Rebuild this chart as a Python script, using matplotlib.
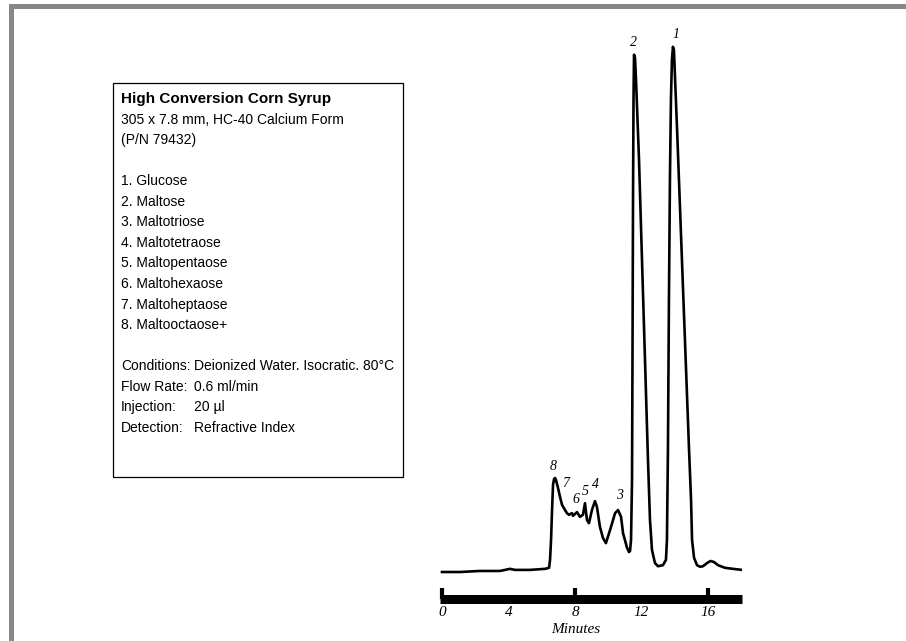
"""
HPLC chromatogram of a high conversion corn syrup on an HC-40 calcium column,
with the run conditions listed in a box on the left.
"""

import matplotlib.pyplot as plt
from matplotlib.patches import Rectangle

W, H = 906, 641

# detector trace: retention time (min) and response (% of the glucose peak)
time_min = [
    0.00, 1.08, 2.29, 3.49, 3.79, 4.09, 4.39, 5.29, 6.20, 6.44,
    6.50, 6.56, 6.62, 6.68, 6.74, 6.80, 6.86, 6.98, 7.10, 7.22,
    7.40, 7.52, 7.64, 7.82, 7.88, 8.12, 8.30, 8.48, 8.60, 8.72,
    8.84, 9.02, 9.20, 9.32, 9.50, 9.68, 9.86, 10.11, 10.41, 10.59,
    10.77, 10.89, 11.13, 11.25, 11.31, 11.37, 11.43, 11.46, 11.49, 11.52,
    11.55, 11.61, 11.67, 11.85, 12.03, 12.21, 12.39, 12.51, 12.63, 12.81,
    12.99, 13.29, 13.47, 13.53, 13.59, 13.65, 13.71, 13.77, 13.83, 13.89,
    13.95, 14.14, 14.32, 14.50, 14.68, 14.86, 14.98, 15.04, 15.16, 15.34,
    15.52, 15.70, 15.94, 16.15, 16.36, 16.60, 17.02, 17.50, 18.05,
]
response = [
    0.0, 0.0, 0.2, 0.2, 0.4, 0.6, 0.4, 0.4, 0.6, 0.8,
    2.3, 6.1, 11.8, 16.6, 17.7, 17.9, 17.5, 16.0, 14.3, 12.8,
    11.8, 11.2, 10.9, 11.2, 10.7, 11.4, 10.5, 10.9, 13.1, 9.9,
    9.3, 11.8, 13.5, 12.4, 8.6, 6.5, 5.5, 8.0, 11.2, 11.8,
    10.5, 7.4, 4.6, 3.8, 4.0, 6.1, 17.5, 42.3, 70.9, 89.9,
    98.5, 97.9, 93.7, 78.5, 59.4, 40.4, 21.3, 9.9, 4.2, 1.7,
    1.1, 1.3, 2.3, 6.1, 23.2, 51.8, 74.7, 89.9, 97.5, 100.0,
    99.4, 84.2, 69.0, 53.7, 38.5, 23.2, 13.7, 6.1, 2.7, 1.3,
    1.0, 1.1, 1.7, 2.1, 1.9, 1.3, 0.8, 0.6, 0.4,
]

# peak numbers with apex time and height
peak_ids = ['8', '7', '6', '5', '4', '3', '2', '1']
peak_times = [6.74, 7.22, 8.12, 8.60, 9.20, 10.59, 11.55, 13.89]
peak_heights = [17.9, 12.8, 11.4, 13.1, 13.5, 11.8, 98.5, 100.0]
# where each number sits relative to its apex (pixels)
label_offsets = [(-1, 11), (4, 21), (-1, 13), (0, 12), (1, 17), (1, 15), (-1, 12), (3, 12)]

marked_ticks = [0, 8, 16]
plain_ticks = [4, 12]

title = 'High Conversion Corn Syrup'
column_info = ['305 x 7.8 mm, HC-40 Calcium Form', '(P/N 79432)']
compounds = ['Glucose', 'Maltose', 'Maltotriose', 'Maltotetraose',
             'Maltopentaose', 'Maltohexaose', 'Maltoheptaose', 'Maltooctaose+']
condition_names = ['Conditions:', 'Flow Rate:', 'Injection:', 'Detection:']
condition_values = ['Deionized Water. Isocratic. 80°C', '0.6 ml/min',
                    '20 µl', 'Refractive Index']


def fx(x):
    return x / W


def fy(y):
    return 1 - y / H


fig = plt.figure(figsize=(W / 100, H / 100), dpi=100)
fig.patch.set_facecolor('white')

# grey frame on the top and left edges
fig.add_artist(Rectangle((fx(9), 0), 5 / W, fy(4), transform=fig.transFigure,
                         facecolor='#878787', edgecolor='none'))
fig.add_artist(Rectangle((fx(9), fy(9)), 1 - fx(9), 5 / H, transform=fig.transFigure,
                         facecolor='#878787', edgecolor='none'))

# chromatogram
ax = fig.add_axes([fx(440.3), fy(599), 301.8 / W, 569 / H])
ax.plot(time_min, response, color='black', lw=1.9, solid_joinstyle='round')
ax.set_xlim(-0.1, 18.05)
ax.set_ylim(-5.14, 103.2)
ax.patch.set_alpha(0)
for side in ['top', 'right', 'left']:
    ax.spines[side].set_visible(False)
ax.spines['bottom'].set_linewidth(6.5)
ax.spines['bottom'].set_capstyle('butt')
ax.set_yticks([])

serif = dict(fontfamily='Liberation Serif', fontstyle='italic')
ax.set_xticks(marked_ticks)
ax.set_xticklabels([str(t) for t in marked_ticks], fontsize=11, **serif)
ax.set_xticks(plain_ticks, minor=True)
ax.set_xticklabels([str(t) for t in plain_ticks], minor=True, fontsize=11, **serif)
ax.tick_params(axis='x', which='major', direction='in', length=8, width=3, pad=5)
ax.tick_params(axis='x', which='minor', direction='in', length=0, pad=5)
ax.set_xlabel('Minutes', fontsize=11, **serif)
ax.xaxis.set_label_coords(0.45, -0.043)

for pid, t, h, (dx, dy) in zip(peak_ids, peak_times, peak_heights, label_offsets):
    ax.annotate(pid, (t, h), xytext=(dx, dy), textcoords='offset pixels',
                ha='center', va='center', fontsize=10, annotation_clip=False, **serif)

# info box
fig.add_artist(Rectangle((fx(113), fy(477)), 290 / W, 394 / H, transform=fig.transFigure,
                         facecolor='white', edgecolor='black', lw=0.9))

sans = dict(fontfamily='Liberation Sans', fontsize=10, va='baseline')
step = 20.55
fig.text(fx(121), fy(103), title, fontfamily='Liberation Sans', fontsize=11,
         fontweight='bold', va='baseline')
y = 103
for line in column_info:
    y += step
    fig.text(fx(121), fy(y), line, **sans)
y += step
for i, name in enumerate(compounds):
    y += step
    fig.text(fx(121), fy(y), f'{i + 1}. {name}', **sans)
y += step
for name, value in zip(condition_names, condition_values):
    y += step
    fig.text(fx(121), fy(y), name, **sans)
    fig.text(fx(194), fy(y), value, **sans)

plt.savefig('out.png', dpi=100)
